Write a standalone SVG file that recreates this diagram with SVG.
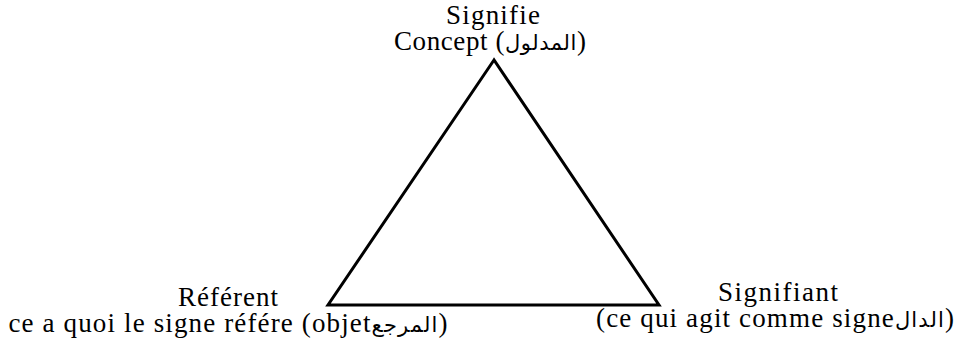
<svg xmlns="http://www.w3.org/2000/svg" width="958" height="356" viewBox="0 0 958 356">
<style>
text{font-family:"Liberation Serif","DejaVu Sans",serif;font-size:27px;fill:#000;text-anchor:middle}
.ar{font-family:"DejaVu Sans",sans-serif;font-size:21px}
.edge{fill:none;stroke:#000;stroke-width:3;stroke-linejoin:miter}
</style>
<rect width="958" height="356" fill="#fff"/>
<g id="connectors">
<polygon class="edge" points="494,60 328,305 659,305"/>
</g>
<g id="signifie">
<text x="493" y="24" textLength="94" lengthAdjust="spacing">Signifie</text>
<text x="490" y="50" textLength="192" lengthAdjust="spacing">Concept (<tspan class="ar">المدلول</tspan>)</text>
</g>
<g id="referent">
<text x="228" y="306" textLength="100" lengthAdjust="spacing">Référent</text>
<text x="228" y="332" textLength="439" lengthAdjust="spacing">ce a quoi le signe référe (objet<tspan class="ar">المرجع</tspan>)</text>
</g>
<g id="signifiant">
<text x="778" y="301" textLength="120" lengthAdjust="spacing">Signifiant</text>
<text x="775" y="327" textLength="358" lengthAdjust="spacing">(ce qui agit comme signe<tspan class="ar">الدال</tspan>)</text>
</g>
</svg>
